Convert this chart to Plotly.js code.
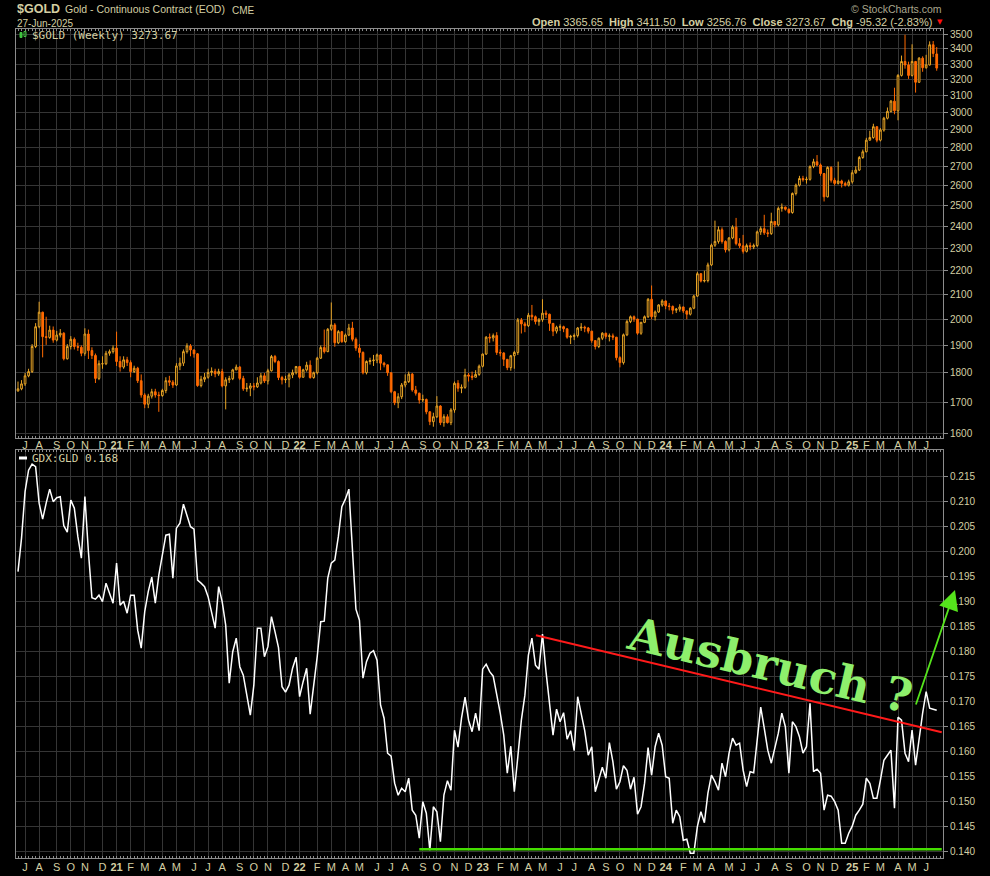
<!DOCTYPE html>
<html><head><meta charset="utf-8">
<script src="https://cdn.plot.ly/plotly-3.0.1.min.js"></script>
<style>html,body{margin:0;padding:0;background:#000;}#chart{width:990px;height:876px;}</style>
</head><body><div id="chart"></div>
<script>
// ---- Weekly $GOLD continuous contract (week ending Friday, first week 2020-06-26) ----
const firstWeek = '2020-06-26';
const weekOpen = [
1738,1745,1762,1790,1805,1896,1971,2028,1933,1930,
1958,1920,1939,1946,1851,1896,1923,1896,1893,1871,
1943,1881,1863,1781,1833,1833,1871,1877,1890,1841,
1821,1847,1837,1805,1817,1773,1724,1693,1720,1735,
1724,1722,1739,1773,1768,1758,1825,1835,1877,1898,
1883,1869,1756,1778,1785,1802,1806,1797,1805,1755,
1776,1780,1811,1821,1781,1745,1747,1755,1752,1765,
1790,1772,1808,1859,1841,1784,1776,1778,1793,1801,
1823,1785,1811,1828,1784,1801,1853,1892,1877,1961,
1978,1910,1952,1914,1939,1966,1923,1890,1874,1801,
1841,1844,1846,1865,1835,1829,1801,1735,1698,1718,
1758,1770,1796,1741,1730,1707,1709,1668,1636,1652,
1687,1633,1652,1633,1674,1764,1747,1750,1793,1789,
1785,1795,1824,1868,1931,1928,1937,1874,1872,1849,
1819,1862,1874,1997,1982,1975,2016,2010,1991,1998,
2024,2020,1984,1954,1969,1971,1963,1931,1934,1937,
1966,1969,1966,1954,1918,1896,1927,1946,1934,1936,
1931,1855,1837,1940,1991,2010,2001,1946,1988,2010,
2080,2010,2029,2057,2073,2053,2051,2036,2040,2049,
2033,2020,2044,2093,2187,2156,2158,2225,2313,2330,
2384,2330,2292,2346,2396,2320,2310,2285,2311,2305,
2311,2374,2389,2370,2366,2423,2407,2486,2492,2482,
2466,2560,2602,2636,2630,2632,2698,2724,2707,2662,
2543,2694,2627,2611,2623,2611,2602,2619,2666,2680,
2747,2778,2842,2857,2918,2842,2899,2967,3007,3068,
3011,3227,3316,3294,3227,3316,3184,3338,3276,3294,
3427,3365.65];
const weekHigh = [
1770,1775,1800,1815,1905,1985,2070,2030,2010,1975,
1972,1955,1962,1950,1905,1935,1930,1910,1900,1965,
1960,1893,1870,1845,1860,1880,1885,1900,1952,1860,
1860,1858,1845,1826,1822,1795,1730,1728,1745,1745,
1735,1745,1785,1790,1775,1835,1855,1885,1908,1905,
1885,1872,1790,1800,1815,1820,1815,1815,1815,1785,
1790,1815,1830,1825,1790,1765,1765,1765,1785,1800,
1800,1815,1865,1865,1845,1790,1790,1800,1812,1825,
1825,1815,1840,1845,1805,1858,1900,1960,1966,2067,
1985,1958,1955,1945,1982,1990,1930,1905,1878,1845,
1855,1865,1870,1868,1840,1830,1802,1738,1730,1765,
1795,1805,1800,1755,1732,1725,1712,1670,1665,1720,
1690,1660,1660,1680,1770,1775,1760,1815,1800,1805,
1810,1830,1870,1935,1945,1945,1950,1885,1875,1850,
1865,1880,2005,2005,1990,2025,2057,2015,2005,2080,
2035,2022,1985,1975,1980,1975,1965,1940,1945,1970,
1985,1975,1970,1955,1920,1930,1950,1948,1945,1945,
1932,1860,1945,1998,2015,2015,2001,1990,2015,2085,
2137,2035,2060,2080,2075,2065,2055,2045,2060,2050,
2035,2048,2098,2195,2190,2200,2235,2320,2427,2400,
2395,2335,2350,2405,2440,2345,2360,2320,2325,2320,
2380,2400,2455,2385,2465,2425,2495,2510,2495,2485,
2565,2610,2650,2650,2645,2705,2740,2760,2715,2665,
2700,2700,2640,2725,2630,2620,2630,2680,2700,2755,
2790,2855,2895,2935,2920,2910,2975,3030,3075,3150,
3235,3355,3495,3315,3430,3320,3345,3350,3360,3450,
3452,3411.50];
const weekLow = [
1735,1740,1755,1785,1800,1890,1965,1856,1902,1925,
1910,1915,1930,1845,1848,1885,1885,1880,1860,1862,
1850,1850,1765,1775,1815,1828,1862,1870,1825,1805,
1815,1825,1785,1800,1765,1715,1680,1680,1712,1715,
1668,1718,1730,1755,1748,1755,1810,1825,1870,1860,
1855,1752,1750,1768,1780,1790,1785,1790,1750,1676,
1765,1775,1810,1775,1738,1735,1720,1740,1748,1760,
1765,1760,1805,1835,1775,1760,1765,1750,1782,1795,
1780,1785,1805,1780,1780,1795,1850,1870,1875,1955,
1895,1905,1910,1910,1935,1915,1880,1855,1795,1795,
1830,1825,1835,1810,1820,1790,1730,1690,1680,1710,
1750,1765,1735,1722,1695,1700,1660,1625,1620,1648,
1625,1620,1630,1625,1665,1735,1730,1745,1770,1775,
1785,1790,1820,1865,1910,1915,1865,1860,1825,1810,
1808,1815,1865,1945,1950,1970,1995,1980,1975,1990,
2005,1955,1935,1945,1955,1950,1925,1905,1920,1930,
1955,1950,1945,1910,1885,1890,1920,1925,1915,1920,
1845,1820,1830,1935,1985,1990,1940,1940,1985,2005,
2000,1995,2025,2050,2040,2035,2020,2025,2030,2025,
2000,2015,2040,2090,2150,2150,2150,2220,2305,2320,
2320,2280,2285,2340,2312,2300,2275,2280,2290,2295,
2305,2360,2360,2350,2360,2395,2400,2470,2475,2460,
2460,2550,2595,2620,2610,2625,2690,2700,2650,2520,
2540,2615,2600,2605,2590,2595,2595,2610,2660,2675,
2740,2775,2840,2850,2830,2835,2890,2960,3000,2990,
2955,3220,3270,3205,3220,3120,3180,3250,3270,3290,
3345,3256.76];
const weekClose = [
1745,1762,1790,1805,1896,1971,2028,1933,1930,1958,
1920,1939,1946,1851,1896,1923,1896,1893,1871,1943,
1881,1863,1781,1833,1833,1871,1877,1890,1841,1821,
1847,1837,1805,1817,1773,1724,1693,1720,1735,1724,
1722,1739,1773,1768,1758,1825,1835,1877,1898,1883,
1869,1756,1778,1785,1802,1806,1797,1805,1755,1776,
1780,1811,1821,1781,1745,1747,1755,1752,1765,1790,
1772,1808,1859,1841,1784,1776,1778,1793,1801,1823,
1785,1811,1828,1784,1801,1853,1892,1877,1961,1978,
1910,1952,1914,1939,1966,1923,1890,1874,1801,1841,
1844,1846,1865,1835,1829,1801,1735,1698,1718,1758,
1770,1796,1741,1730,1707,1709,1668,1636,1652,1687,
1633,1652,1633,1674,1764,1747,1750,1793,1789,1785,
1795,1824,1868,1931,1928,1937,1874,1872,1849,1819,
1862,1874,1997,1982,1975,2016,2010,1991,1998,2024,
2020,1984,1954,1969,1971,1963,1931,1934,1937,1966,
1969,1966,1954,1918,1896,1927,1946,1934,1936,1931,
1855,1837,1940,1991,2010,2001,1946,1988,2010,2080,
2010,2029,2057,2073,2053,2051,2036,2040,2049,2033,
2020,2044,2093,2187,2156,2158,2225,2313,2330,2384,
2330,2292,2346,2396,2320,2310,2285,2311,2305,2311,
2374,2389,2370,2366,2423,2407,2486,2492,2482,2466,
2560,2602,2636,2630,2632,2698,2724,2707,2662,2543,
2694,2627,2611,2623,2611,2602,2619,2666,2680,2747,
2778,2842,2857,2918,2842,2899,2967,3007,3068,3011,
3227,3316,3294,3227,3316,3184,3338,3276,3294,3427,
3369,3273.67];
// ---- Weekly GDX:GLD ratio ----
const gdxGldRatio = [
0.1960,0.2027,0.2120,0.2163,0.2175,0.2170,0.2097,0.2065,0.2097,0.2125,
0.2100,0.2108,0.2110,0.2052,0.2039,0.2103,0.2087,0.2030,0.1987,0.2110,
0.2000,0.1908,0.1905,0.1913,0.1900,0.1937,0.1917,0.1897,0.1977,0.1893,
0.1901,0.1877,0.1913,0.1913,0.1843,0.1807,0.1880,0.1920,0.1949,0.1897,
0.1953,0.1993,0.2033,0.2035,0.1947,0.2047,0.2057,0.2095,0.2073,0.2050,
0.2045,0.1943,0.1937,0.1930,0.1910,0.1877,0.1847,0.1930,0.1900,0.1853,
0.1737,0.1800,0.1827,0.1770,0.1753,0.1713,0.1673,0.1733,0.1847,0.1847,
0.1790,0.1810,0.1870,0.1840,0.1808,0.1730,0.1719,0.1733,0.1767,0.1789,
0.1710,0.1740,0.1767,0.1675,0.1727,0.1790,0.1860,0.1861,0.1947,0.1977,
0.1983,0.2030,0.2090,0.2105,0.2125,0.2000,0.1885,0.1863,0.1747,0.1780,
0.1797,0.1802,0.1783,0.1693,0.1667,0.1597,0.1591,0.1537,0.1513,0.1527,
0.1520,0.1547,0.1483,0.1473,0.1427,0.1500,0.1477,0.1403,0.1490,0.1480,
0.1420,0.1513,0.1542,0.1523,0.1643,0.1609,0.1667,0.1709,0.1663,0.1640,
0.1677,0.1642,0.1765,0.1775,0.1760,0.1751,0.1717,0.1677,0.1633,0.1557,
0.1611,0.1520,0.1590,0.1663,0.1713,0.1793,0.1827,0.1773,0.1765,0.1835,
0.1760,0.1697,0.1633,0.1685,0.1660,0.1678,0.1625,0.1642,0.1602,0.1710,
0.1677,0.1642,0.1593,0.1610,0.1520,0.1547,0.1569,0.1547,0.1618,0.1580,
0.1525,0.1540,0.1572,0.1563,0.1525,0.1549,0.1475,0.1490,0.1537,0.1608,
0.1553,0.1610,0.1637,0.1613,0.1550,0.1547,0.1457,0.1483,0.1470,0.1423,
0.1425,0.1397,0.1397,0.1450,0.1480,0.1458,0.1517,0.1553,0.1540,0.1523,
0.1577,0.1550,0.1597,0.1627,0.1613,0.1617,0.1563,0.1530,0.1560,0.1558,
0.1625,0.1689,0.1647,0.1603,0.1577,0.1605,0.1637,0.1677,0.1650,0.1557,
0.1660,0.1650,0.1630,0.1597,0.1610,0.1697,0.1560,0.1565,0.1557,0.1483,
0.1513,0.1511,0.1500,0.1483,0.1417,0.1417,0.1437,0.1451,0.1473,0.1483,
0.1495,0.1547,0.1537,0.1507,0.1507,0.1543,0.1583,0.1593,0.1603,0.1487,
0.1669,0.1663,0.1597,0.1580,0.1643,0.1573,0.1630,0.1677,0.1720,0.1687,
0.1685,0.1683];
// ---- Axis tick labels ----
const priceTicks = [1600,1700,1800,1900,2000,2100,2200,2300,2400,2500,2600,2700,2800,2900,3000,3100,3200,3300,3400,3500];
const ratioTicks = [0.140,0.145,0.150,0.155,0.160,0.165,0.170,0.175,0.180,0.185,0.190,0.195,0.200,0.205,0.210,0.215];
const monthLetters = ['J','F','M','A','M','J','J','A','S','O','N','D'];
// ---- Annotation lines (hand-drawn on the chart) ----
const resistanceLine = {x: ['2023-04-22','2025-07-07'], y: [0.1833, 0.1639]};
const supportLine = {x: ['2022-09-02','2025-07-07'], y: [0.1405, 0.1405]};

// weekly dates
const DAY = 86400000;
const t0 = Date.parse(firstWeek + 'T00:00:00Z');
const dates = weekClose.map((_, i) => new Date(t0 + i * 7 * DAY).toISOString().slice(0, 10));

// month tick positions: first bar whose week (Monday) starts in a new month
const tickVals = [], tickText = [];
let prevM = null;
dates.forEach(ds => {
  const mon = new Date(Date.parse(ds + 'T00:00:00Z') - 4 * DAY);
  const m = mon.getUTCMonth();
  if (prevM !== null && m !== prevM) {
    tickVals.push(ds);
    tickText.push(m === 0 ? '<b>' + String(mon.getUTCFullYear()).slice(2) + '</b>' : monthLetters[m]);
  }
  prevM = m;
});

const GOLD = '#e9a526', ORANGE = '#ff6a00';
const KH = '#d4cfa3', GRID = '#353535', LINE = '#8c8c8c';

// colour by close vs previous close; hollow when close > open
const upI = [], dnI = [];
weekClose.forEach((c, i) => ((i === 0 || c >= weekClose[i - 1]) ? upI : dnI).push(i));
const pick = (a, idx) => idx.map(i => a[i]);
function candles(idx, col) {
  return {
    type: 'candlestick', xaxis: 'x', yaxis: 'y',
    x: pick(dates, idx), open: pick(weekOpen, idx), high: pick(weekHigh, idx),
    low: pick(weekLow, idx), close: pick(weekClose, idx),
    increasing: {line: {color: col, width: 1}, fillcolor: '#000'},
    decreasing: {line: {color: col, width: 1}, fillcolor: col},
    whiskerwidth: 0, hoverinfo: 'skip', showlegend: false
  };
}
const traces = [
  candles(upI, GOLD), candles(dnI, ORANGE),
  {type: 'scatter', mode: 'lines', x: dates, y: gdxGldRatio, xaxis: 'x2', yaxis: 'y2',
   line: {color: '#ffffff', width: 1.5}, hoverinfo: 'skip', showlegend: false}
];

const PX = px => (px - 16) / 927;
const PY = py => (858 - py) / 829;
function ann(text, px, py, xanchor, font) {
  return {xref: 'paper', yref: 'paper', x: PX(px), y: PY(py), text: text, showarrow: false,
          xanchor: xanchor, yanchor: 'middle', font: font};
}
const xBase = {
  type: 'date', range: ['2020-06-22', '2025-07-09 12:00'],
  tickmode: 'array', tickvals: tickVals, ticktext: tickText, tickangle: 0,
  tickfont: {family: 'Liberation Sans, Arial', size: 11, color: KH},
  showgrid: true, gridcolor: GRID, gridwidth: 1, zeroline: false,
  showline: true, linecolor: LINE, linewidth: 1, mirror: 'allticks', ticks: '',
  minor: {tickmode: 'linear', tick0: firstWeek, dtick: 7 * DAY, ticks: 'inside', ticklen: 2, tickcolor: LINE, showgrid: false},
  rangeslider: {visible: false}, fixedrange: true
};
const yBase = {
  side: 'right', tickmode: 'array', ticks: 'outside', ticklen: 4, tickcolor: LINE,
  tickfont: {family: 'Liberation Sans, Arial', size: 10, color: KH},
  showgrid: true, gridcolor: GRID, zeroline: false,
  showline: true, linecolor: LINE, mirror: true, fixedrange: true
};
const sp = '\u00a0';
const layout = {
  width: 990, height: 876, paper_bgcolor: '#000', plot_bgcolor: '#000',
  margin: {l: 16, r: 47, t: 29, b: 18}, showlegend: false, hovermode: false,
  font: {family: 'Liberation Sans, Arial', color: KH},
  xaxis: Object.assign({}, xBase, {anchor: 'y', domain: [0, 1], ticklabelstandoff: -3}),
  xaxis2: Object.assign({}, xBase, {anchor: 'y2', domain: [0, 1], ticklabelstandoff: -1}),
  yaxis: Object.assign({}, yBase, {domain: [0.5066, 1], type: 'log',
    range: [Math.log10(1584.4), Math.log10(3534.5)],
    tickvals: priceTicks, ticktext: priceTicks.map(String)}),
  yaxis2: Object.assign({}, yBase, {domain: [0, 0.4922], type: 'linear',
    range: [0.13874, 0.22034], tickvals: ratioTicks, ticktext: ratioTicks.map(v => v.toFixed(3))}),
  shapes: [
    {type: 'line', xref: 'x2', yref: 'y2', x0: supportLine.x[0], x1: supportLine.x[1],
     y0: supportLine.y[0], y1: supportLine.y[1], line: {color: '#44dd00', width: 2.5}},
    {type: 'line', xref: 'x2', yref: 'y2', x0: resistanceLine.x[0], x1: resistanceLine.x[1],
     y0: resistanceLine.y[0], y1: resistanceLine.y[1], line: {color: '#ff1a1a', width: 2}},
    {type: 'line', xref: 'paper', yref: 'paper', x0: PX(19), x1: PX(27), y0: PY(458), y1: PY(458),
     line: {color: '#ffffff', width: 3}},
    {type: 'rect', xref: 'paper', yref: 'paper', x0: PX(20), x1: PX(22), y0: PY(37.5), y1: PY(32.5),
     line: {color: '#3fc23f', width: 1}, fillcolor: '#3fc23f'},
    {type: 'rect', xref: 'paper', yref: 'paper', x0: PX(24), x1: PX(26), y0: PY(36.5), y1: PY(31.5),
     line: {color: '#3fc23f', width: 1}, fillcolor: 'rgba(0,0,0,0)'}
  ],
  annotations: [
    ann('<b>$GOLD</b>', 15, 9.5, 'left', {family: 'Liberation Sans', size: 12.5, color: KH}),
    ann('Gold - Continuous Contract (EOD)', 63, 9.5, 'left', {family: 'Liberation Sans', size: 10.5, color: KH}),
    ann('CME', 230, 10, 'left', {family: 'Liberation Sans', size: 10, color: KH}),
    ann('27-Jun-2025', 15, 23, 'left', {family: 'Liberation Sans', size: 10, color: KH}),
    ann('\u00a9 StockCharts.com', 944, 9, 'right', {family: 'Liberation Sans', size: 10.5, color: '#a9a68e'}),
    ann('<b>Open</b> 3365.65' + sp + sp + '<b>High</b> 3411.50' + sp + sp + '<b>Low</b> 3256.76' + sp + sp +
        '<b>Close</b> 3273.67' + sp + sp + '<b>Chg</b> -95.32 (-2.83%)', 934, 22, 'right',
        {family: 'Liberation Sans', size: 11, color: KH}),
    ann('\u25bc', 940, 22.5, 'center', {family: 'DejaVu Sans', size: 7, color: '#ff1010'}),
    ann('$GOLD (Weekly) 3273.67', 30, 35, 'left', {family: 'DejaVu Sans Mono', size: 11, color: KH}),
    ann('GDX:GLD 0.168', 30, 458.5, 'left', {family: 'DejaVu Sans Mono', size: 11, color: KH}),
    {xref: 'paper', yref: 'paper', x: PX(770), y: PY(665), text: '<b>Ausbruch ?</b>', showarrow: false,
     xanchor: 'center', yanchor: 'middle', textangle: 13,
     font: {family: 'DejaVu Serif', size: 46, color: '#8eef6c'}},
    {xref: 'paper', yref: 'paper', x: PX(955), y: PY(590), ax: -42, ay: 123, text: ' ',
     showarrow: true, arrowhead: 2, arrowsize: 2.2, arrowwidth: 1.8, arrowcolor: '#55e41c', standoff: 0}
  ]
};
Plotly.newPlot('chart', traces, layout, {staticPlot: true, displayModeBar: false});
</script></body></html>
